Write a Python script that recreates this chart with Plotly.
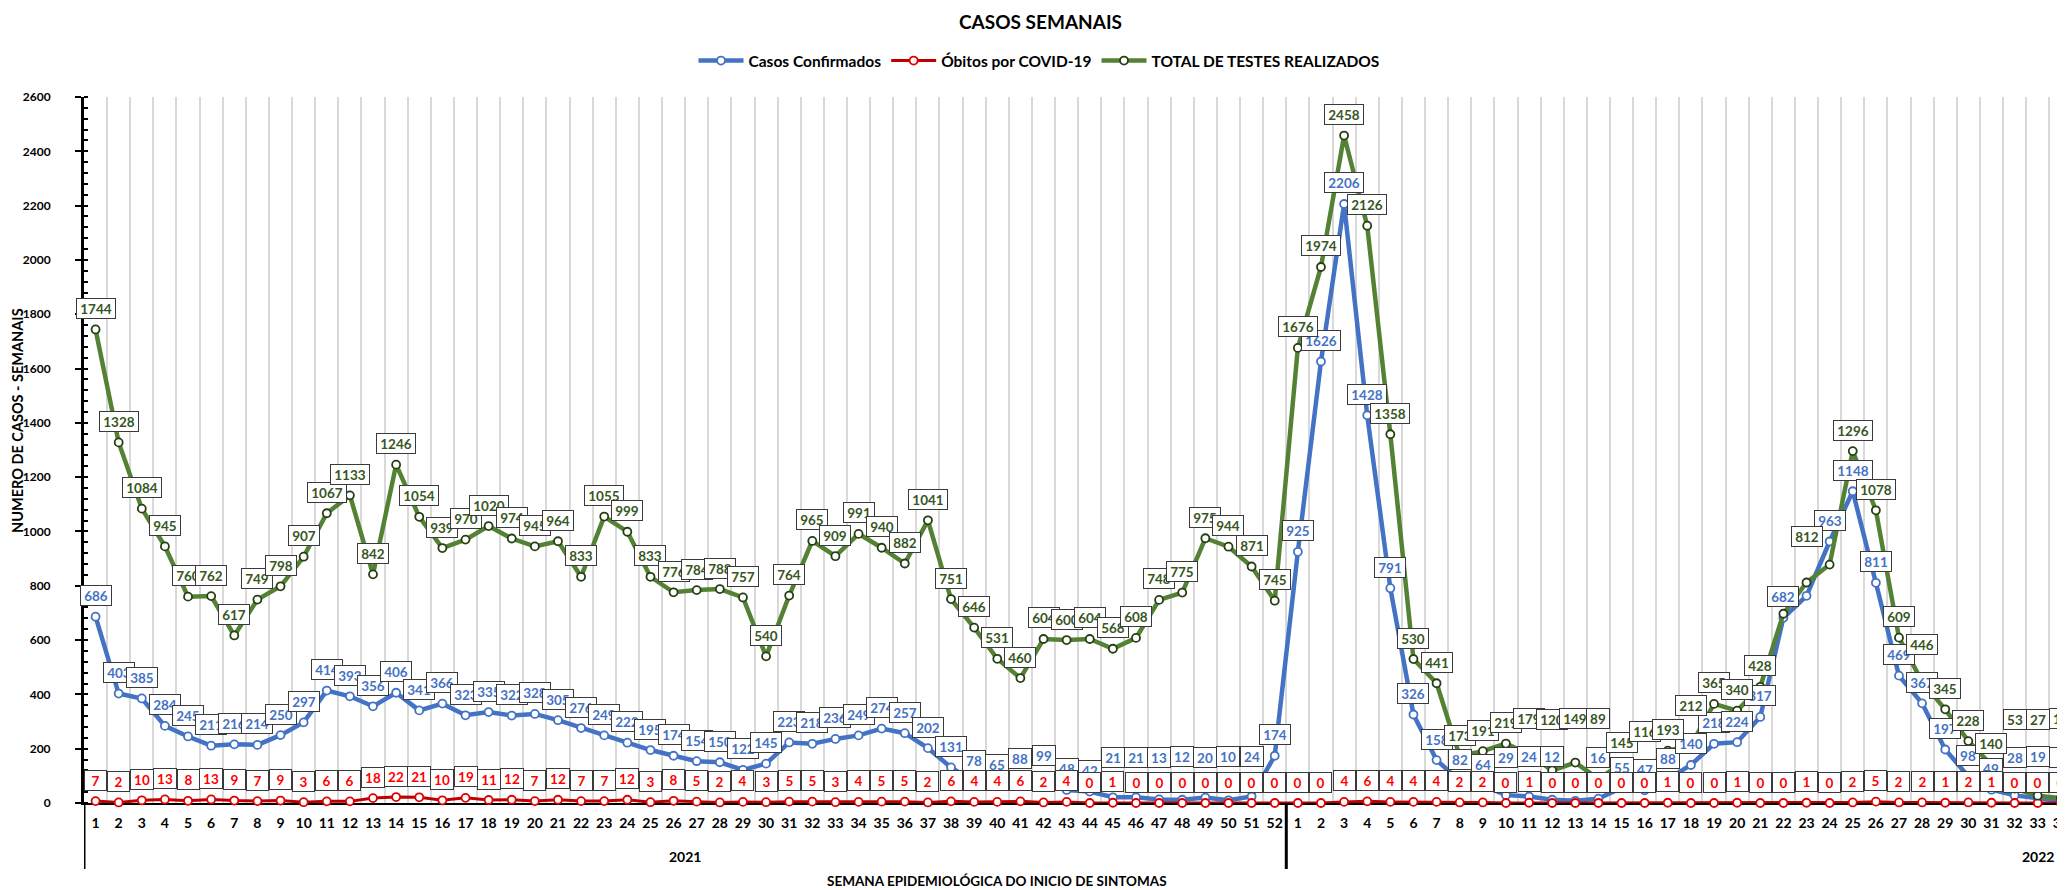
import plotly.graph_objects as go

# semanas epidemiológicas
semanas_2021 = list(range(1, 53))
semanas_2022 = list(range(1, 35))

casos_2021 = [686, 403, 385, 284, 245, 211, 216, 214, 250, 297,
              414, 393, 356, 406, 341, 366, 323, 335, 322, 328,
              305, 276, 249, 222, 195, 174, 154, 150, 122, 145,
              223, 218, 236, 249, 274, 257, 202, 131, 78, 65,
              88, 99, 48, 42, 21, 21, 13, 12, 20, 10,
              24, 174]
casos_2022 = [925, 1626, 2206, 1428, 791, 326, 158, 82, 64, 29,
              24, 12, 8, 16, 55, 47, 88, 140, 218, 224,
              317, 682, 763, 963, 1148, 811, 469, 367, 197, 98,
              49, 28, 19, 8]

obitos_2021 = [7, 2, 10, 13, 8, 13, 9, 7, 9, 3,
               6, 6, 18, 22, 21, 10, 19, 11, 12, 7,
               12, 7, 7, 12, 3, 8, 5, 2, 4, 3,
               5, 5, 3, 4, 5, 5, 2, 6, 4, 4,
               6, 2, 4, 0, 1, 0, 0, 0, 0, 0,
               0, 0]
obitos_2022 = [0, 0, 4, 6, 4, 4, 4, 2, 2, 0,
               1, 0, 0, 0, 0, 0, 1, 0, 0, 1,
               0, 0, 1, 0, 2, 5, 2, 2, 1, 2,
               1, 0, 0, 0]

testes_2021 = [1744, 1328, 1084, 945, 760, 762, 617, 749, 798, 907,
               1067, 1133, 842, 1246, 1054, 939, 970, 1020, 974, 945,
               964, 833, 1055, 999, 833, 776, 784, 788, 757, 540,
               764, 965, 909, 991, 940, 882, 1041, 751, 646, 531,
               460, 604, 600, 604, 568, 608, 748, 775, 975, 944,
               871, 745]
testes_2022 = [1676, 1974, 2458, 2126, 1358, 530, 441, 173, 191, 219,
               179, 120, 149, 89, 145, 116, 193, 212, 365, 340,
               428, 697, 812, 878, 1296, 1078, 609, 446, 345, 228,
               140, 53, 27, 18]

anos = ["2021", "2022"]

semanas = semanas_2021 + semanas_2022
casos = casos_2021 + casos_2022
obitos = obitos_2021 + obitos_2022
testes = testes_2021 + testes_2022
xs = list(range(1, len(semanas) + 1))
n21 = len(semanas_2021)

FONTE = "Lato"
AZUL = "#4472C4"
VERMELHO = "#C00000"
VERDE = "#548235"

Y_MAX = 2600
ALTURA_PLOT = 706
LARGURA_PLOT = 1981
PX = ALTURA_PLOT / Y_MAX  # pixels por unidade

# a página tem 8 px de margem no body: a figura começa em (8, 8)
OFF = 8


def px_x(p):
    return (p - 84) / LARGURA_PLOT


def px_y(p):
    return (803 - p) / ALTURA_PLOT


fig = go.Figure()

fig.add_trace(go.Scatter(x=xs, y=casos, mode='lines+markers', name='Casos Confirmados',
                         line=dict(color=AZUL, width=4.5),
                         marker=dict(size=8, color='white', line=dict(color=AZUL, width=1.8)),
                         cliponaxis=False))
fig.add_trace(go.Scatter(x=xs, y=obitos, mode='lines+markers', name='Óbitos por COVID-19',
                         line=dict(color=VERMELHO, width=3),
                         marker=dict(size=8, color='white', line=dict(color='#E00000', width=1.8)),
                         cliponaxis=False))
fig.add_trace(go.Scatter(x=xs, y=testes, mode='lines+markers', name='TOTAL DE TESTES REALIZADOS',
                         line=dict(color=VERDE, width=4.5),
                         marker=dict(size=8, color='white', line=dict(color='#263f12', width=1.8)),
                         cliponaxis=False))

# rótulos escondidos no original (sobrepostos)
ocultos_casos = {n21 + 13, n21 + 23}
ocultos_testes = {n21 + 22, n21 + 24}

# altura (px acima do eixo) do centro de cada rótulo
centro_casos = [max(v * PX + 21, 46) if v < 30 else v * PX + 21 for v in casos]
centro_obitos = [v * PX + 21 for v in obitos]
centro_testes = []
for v, cb in zip(testes, centro_casos):
    c = v * PX + 21
    if c < cb + 24:
        c = cb + 38
    centro_testes.append(c)


def rotulos(valores, centros, cor, ocultos=()):
    """Caixas de rótulo acima de cada ponto."""
    out = []
    for x, v, c in zip(xs, valores, centros):
        if x in ocultos:
            continue
        txt = str(v)
        out.append(dict(x=x, y=v, xref='x', yref='y', text=txt, showarrow=False,
                        xanchor='center', yanchor='middle', yshift=c - v * PX,
                        font=dict(family=FONTE, size=13.5, color=cor, weight='bold'),
                        bgcolor='white', bordercolor='#3a3a3a', borderwidth=1, borderpad=1.5,
                        width=max(18, 8 * len(txt) + 3)))
    return out


anot = []
anot += rotulos(casos, centro_casos, AZUL, ocultos_casos)
anot += rotulos(obitos, centro_obitos, '#FF0000')
anot += rotulos(testes, centro_testes, '#375623', ocultos_testes)

# título, eixos e anos
centro = dict(xanchor='center', yanchor='middle', showarrow=False)
anot.append(dict(text='CASOS SEMANAIS', x=px_x(1040), y=px_y(21),
                 xref='paper', yref='paper', **centro,
                 font=dict(family=FONTE, size=19, color='black', weight='bold')))
anot.append(dict(text='NUMERO DE CASOS - SEMANAIS', x=px_x(17), y=px_y(421),
                 xref='paper', yref='paper', textangle=-90, **centro,
                 font=dict(family=FONTE, size=14.5, color='black', weight='bold')))
anot.append(dict(text='SEMANA EPIDEMIOLÓGICA DO INICIO DE SINTOMAS', x=px_x(997),
                 y=px_y(881), xref='paper', yref='paper', **centro,
                 font=dict(family=FONTE, size=13.5, color='black', weight='bold')))
anot.append(dict(text=anos[0], x=(1 + n21) / 2, y=px_y(857),
                 xref='x', yref='paper', **centro,
                 font=dict(family=FONTE, size=14, color='black', weight='bold')))
anot.append(dict(text=anos[1], x=85, y=px_y(857),
                 xref='x', yref='paper', **centro,
                 font=dict(family=FONTE, size=14, color='black', weight='bold')))

# separadores dos anos no eixo de categorias
shapes = []
for xsep in [0.5, n21 + 0.5]:
    shapes.append(dict(type='line', xref='x', yref='paper', x0=xsep, x1=xsep,
                       y0=0, y1=px_y(869), line=dict(color='black', width=3)))

fig.update_layout(
    width=2065 - OFF, height=890 - OFF,
    margin=dict(l=84 - OFF, r=0, t=97 - OFF, b=87, autoexpand=False),
    plot_bgcolor='white', paper_bgcolor='white',
    font=dict(family=FONTE, color='black'),
    annotations=anot, shapes=shapes,
    legend=dict(orientation='h', x=px_x(1039), xanchor='center',
                y=px_y(61), yanchor='middle', itemwidth=45,
                font=dict(family=FONTE, size=15.5, color='black', weight='bold')),
    xaxis=dict(range=[0.5, 86.18], tickmode='array', tickvals=xs, ticktext=[str(s) for s in semanas],
               ticks='', showgrid=False, showline=True, linecolor='black', linewidth=2,
               zeroline=False, layer='below traces', ticklabelstandoff=6, automargin=False,
               ticklabeloverflow='allow',
               tickfont=dict(family=FONTE, size=14, color='black', weight='bold'),
               minor=dict(tickmode='array', tickvals=[i + 0.5 for i in range(len(xs))],
                          showgrid=True, gridcolor='#d9d9d9', gridwidth=1.5, ticks='')),
    yaxis=dict(range=[0, Y_MAX], tick0=0, dtick=200, showgrid=False, zeroline=False,
               showline=True, linecolor='black', linewidth=3, automargin=False,
               ticks='outside', ticklen=6, tickwidth=2, tickcolor='black', ticklabelstandoff=22,
               tickfont=dict(family=FONTE, size=12, color='black', weight='bold'),
               minor=dict(dtick=40, ticks='inside', ticklen=4, tickwidth=1.5, tickcolor='black')),
)

fig.write_html("out.html")
